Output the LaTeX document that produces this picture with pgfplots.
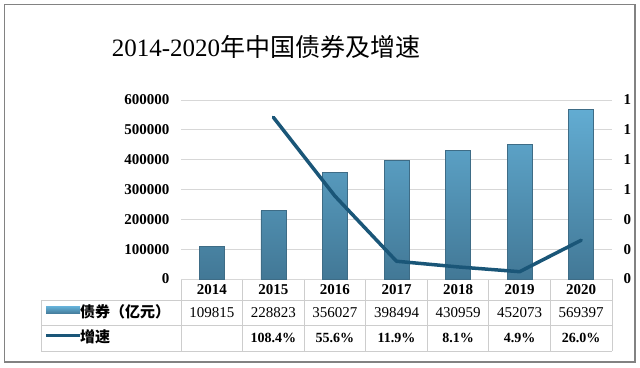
\documentclass[border=0pt]{standalone}
\usepackage{pgfplots}
\pgfplotsset{compat=1.18}
\usepackage{fontspec}
\setmainfont{Liberation Serif}
\newfontfamily\cjk{Noto Sans CJK SC}
\definecolor{bartop}{RGB}{98,172,210}
\definecolor{barbot}{RGB}{66,120,150}
\definecolor{baredge}{RGB}{62,108,134}
\definecolor{linec}{RGB}{26,86,120}
\definecolor{gridc}{RGB}{215,215,215}
\definecolor{tabc}{RGB}{205,205,205}
\definecolor{framec}{RGB}{130,130,130}
\tikzset{valA/.style={font=\fontsize{15}{17}\selectfont, yshift=-33.5pt},
         valB/.style={font=\bfseries\fontsize{14}{17}\selectfont, yshift=-59pt}}
\begin{document}
\begin{tikzpicture}
\useasboundingbox (0pt,0pt) rectangle (640pt,367pt);
\draw[framec, line width=1.2pt] (4.5pt,5pt) rectangle (635pt,362.5pt);
\node[font=\fontsize{25}{28}\selectfont] at (266pt,320pt) {2014-2020{\cjk 年中国债券及增速}};
% table grid
\foreach \k in {0,...,7} {
  \draw[tabc, line width=0.8pt] ({181pt+\k*61.571pt},88pt) -- ({181pt+\k*61.571pt},16pt);
}
\draw[tabc, line width=0.8pt] (181pt,88pt) -- (612pt,88pt);
\draw[tabc, line width=0.8pt] (41pt,67pt) -- (612pt,67pt);
\draw[tabc, line width=0.8pt] (41pt,42pt) -- (612pt,42pt);
\draw[tabc, line width=0.8pt] (41pt,16pt) -- (612pt,16pt);
\draw[tabc, line width=0.8pt] (41pt,67pt) -- (41pt,16pt);
% legend keys
\shade[top color=bartop, bottom color=barbot] (46pt,53pt) rectangle (80pt,60pt);
\draw[linec, line width=3.5pt] (46pt,31.5pt) -- (80pt,31.5pt);
\node[anchor=west, inner sep=0pt, font=\cjk\bfseries\fontsize{15}{17}\selectfont] at (80pt,55pt) {债券（亿元）};
\node[anchor=west, inner sep=0pt, font=\cjk\bfseries\fontsize{15}{17}\selectfont] at (80pt,30pt) {增速};
\begin{axis}[
  at={(181pt,88pt)}, anchor=south west,
  scale only axis, width=431pt, height=179pt,
  xmin=-0.5, xmax=6.5, ymin=0, ymax=600000,
  xtick={0,1,2,3,4,5,6},
  xticklabels={2014,2015,2016,2017,2018,2019,2020},
  xticklabel style={anchor=center, yshift=-11pt, font=\bfseries\fontsize{15}{17}\selectfont},
  ytick={0,100000,200000,300000,400000,500000,600000},
  scaled y ticks=false,
  yticklabel style={anchor=east, xshift=-8pt, font=\bfseries\fontsize{15}{17}\selectfont,
    /pgf/number format/fixed, /pgf/number format/1000 sep={}},
  /pgf/number format/assume math mode=true,
  ymajorgrids, grid style={gridc, line width=0.8pt},
  axis line style={draw=none}, major tick length=0pt,
  clip=false,
]
\addplot[ybar, bar width=25pt, draw=baredge, line width=0.6pt,
  top color=bartop, bottom color=barbot]
  coordinates {(0,109815) (1,228823) (2,356027) (3,398494) (4,430959) (5,452073) (6,569397)};
% table values
\node[valA] at (axis cs:0,0) {109815};
\node[valA] at (axis cs:1,0) {228823};
\node[valA] at (axis cs:2,0) {356027};
\node[valA] at (axis cs:3,0) {398494};
\node[valA] at (axis cs:4,0) {430959};
\node[valA] at (axis cs:5,0) {452073};
\node[valA] at (axis cs:6,0) {569397};
\node[valB] at (axis cs:1,0) {108.4\%};
\node[valB] at (axis cs:2,0) {55.6\%};
\node[valB] at (axis cs:3,0) {11.9\%};
\node[valB] at (axis cs:4,0) {8.1\%};
\node[valB] at (axis cs:5,0) {4.9\%};
\node[valB] at (axis cs:6,0) {26.0\%};
\end{axis}
\begin{axis}[
  at={(181pt,88pt)}, anchor=south west,
  scale only axis, width=431pt, height=179pt,
  xmin=-0.5, xmax=6.5, ymin=0, ymax=1.2,
  axis x line=none, axis y line*=right,
  ytick={0,0.2,0.4,0.6,0.8,1.0,1.2},
  yticklabels={0,0,0,1,1,1,1},
  yticklabel style={anchor=west, xshift=8pt, font=\bfseries\fontsize{15}{17}\selectfont},
  /pgf/number format/assume math mode=true,
  axis line style={draw=none}, major tick length=0pt,
  clip=false,
]
\addplot[linec, line width=3.5pt, line join=round, line cap=round, mark=none]
  coordinates {(1,1.084) (2,0.556) (3,0.119) (4,0.081) (5,0.049) (6,0.260)};
\end{axis}
\end{tikzpicture}
\end{document}
